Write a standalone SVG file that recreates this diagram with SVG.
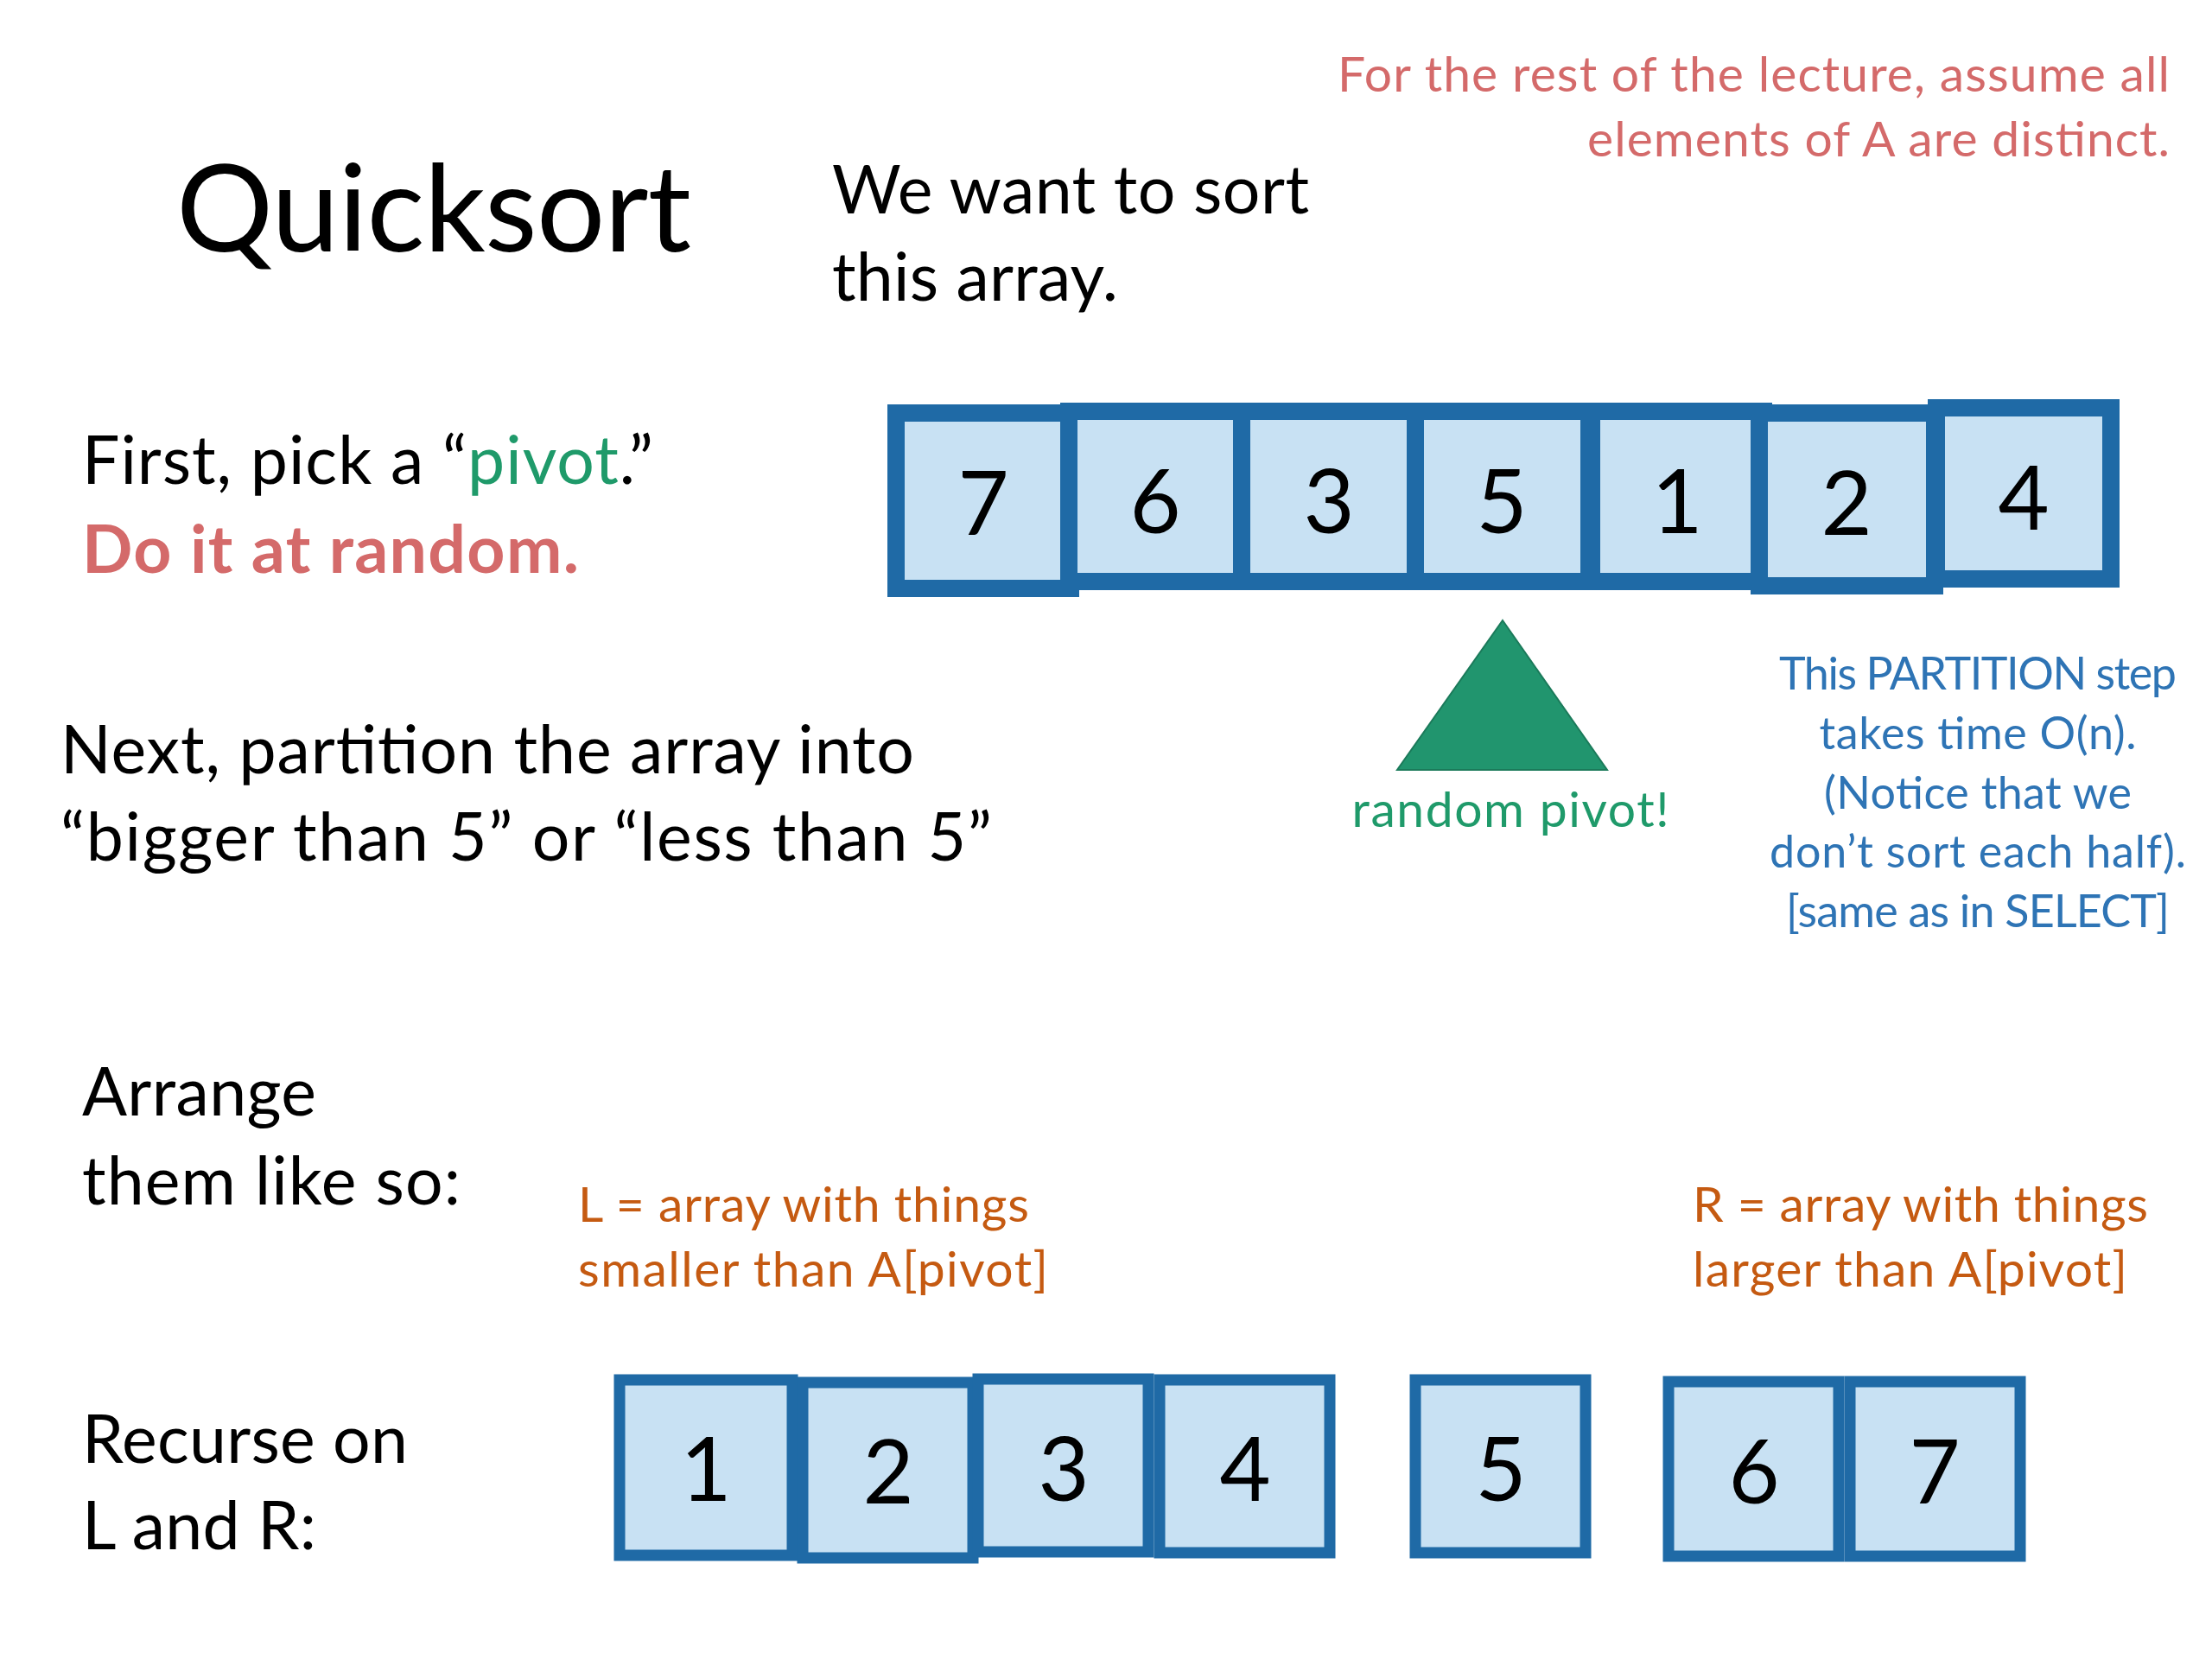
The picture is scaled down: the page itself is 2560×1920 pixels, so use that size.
<svg xmlns="http://www.w3.org/2000/svg" width="2560" height="1920" viewBox="0 0 2560 1920">
<style>
text{font-family:Lato,"Noto Sans","DejaVu Sans",sans-serif}
.body{font-size:77px;fill:#000}
.title{font-size:140px;fill:#000}
.red{font-size:57px;fill:#D46A6A}
.redb{font-size:77px;fill:#D46A6A;font-weight:bold}
.green{fill:#1F9A6A}
.blue{font-size:52px;fill:#2E74B5;text-anchor:middle}
.orange{font-size:57px;fill:#C55A11}
.cellT{fill:#C8E1F3;stroke:#1F6AA6;stroke-width:20}
.cellB{fill:#C8E1F3;stroke:#1F6AA6;stroke-width:13}
.digit{font-size:102px;fill:#000;text-anchor:middle}
</style>
<rect width="2560" height="1920" fill="#fff"/>
<g id="title"><text class="title" x="204" y="291" textLength="596">Quicksort</text></g>
<g id="intro">
<text class="body" x="963" y="247" textLength="552">We want to sort</text>
<text class="body" x="963" y="348" textLength="331">this array.</text>
</g>
<g id="note-distinct">
<text class="red" x="2511" y="106" text-anchor="end" textLength="963">For the rest of the lecture, assume all</text>
<text class="red" x="2511" y="181" text-anchor="end" textLength="674">elements of A are distinct.</text>
</g>
<g id="step-pivot">
<text class="body" x="95" y="560" textLength="661">First, pick a “<tspan class="green">pivot</tspan>.”</text>
<text class="redb" x="95" y="663" textLength="575">Do it at random.</text>
</g>
<g id="step-partition">
<text class="body" x="70" y="895" textLength="988">Next, partition the array into</text>
<text class="body" x="70" y="996" textLength="1078">“bigger than 5” or “less than 5”</text>
</g>
<g id="array-top">
<g id="t7"><rect class="cellT" x="1037" y="478" width="202" height="203"/><text class="digit" x="1138" y="619">7</text></g>
<g id="t6"><rect class="cellT" x="1237" y="476" width="200" height="197"/><text class="digit" x="1337" y="617">6</text></g>
<g id="t3"><rect class="cellT" x="1437" y="476" width="202" height="197"/><text class="digit" x="1538" y="617">3</text></g>
<g id="t5"><rect class="cellT" x="1638" y="476" width="201" height="197"/><text class="digit" x="1738" y="617">5</text></g>
<g id="t1"><rect class="cellT" x="1842" y="476" width="199" height="197"/><text class="digit" x="1941" y="617">1</text></g>
<g id="t2"><rect class="cellT" x="2036" y="478" width="203" height="200"/><text class="digit" x="2137" y="619">2</text></g>
<g id="t4"><rect class="cellT" x="2241" y="472" width="202" height="198"/><text class="digit" x="2342" y="613">4</text></g>
</g>
<g id="pivot-marker">
<polygon points="1739,718 1860,891 1617,891" fill="#21956E" stroke="#1B7A5A" stroke-width="2"/>
<text class="green" x="1748" y="957" font-size="57" text-anchor="middle" textLength="367">random pivot!</text>
</g>
<g id="note-partition">
<text class="blue" x="2289" y="798" textLength="460">This PARTITION step</text>
<text class="blue" x="2289" y="867" textLength="367">takes time O(n).</text>
<text class="blue" x="2289" y="936" textLength="356">(Notice that we</text>
<text class="blue" x="2289" y="1004" textLength="482">don’t sort each half).</text>
<text class="blue" x="2289" y="1073" textLength="444">[same as in SELECT]</text>
</g>
<g id="step-arrange">
<text class="body" x="95" y="1291" textLength="271">Arrange</text>
<text class="body" x="95" y="1394" textLength="438">them like so:</text>
</g>
<g id="label-L">
<text class="orange" x="669" y="1414" textLength="522">L = array with things</text>
<text class="orange" x="669" y="1489" textLength="544">smaller than A[pivot]</text>
</g>
<g id="label-R">
<text class="orange" x="1959" y="1414" textLength="527">R = array with things</text>
<text class="orange" x="1959" y="1489" textLength="503">larger than A[pivot]</text>
</g>
<g id="step-recurse">
<text class="body" x="95" y="1693" textLength="377">Recurse on</text>
<text class="body" x="95" y="1793" textLength="271">L and R:</text>
</g>
<g id="array-L">
<g id="b1"><rect class="cellB" x="717" y="1597" width="200" height="203"/><text class="digit" x="817" y="1737">1</text></g>
<g id="b2"><rect class="cellB" x="929" y="1600" width="197" height="203"/><text class="digit" x="1028" y="1740">2</text></g>
<g id="b3"><rect class="cellB" x="1132" y="1596" width="197" height="200"/><text class="digit" x="1231" y="1737">3</text></g>
<g id="b4"><rect class="cellB" x="1342" y="1597" width="197" height="200"/><text class="digit" x="1441" y="1737">4</text></g>
</g>
<g id="array-pivot">
<g id="b5"><rect class="cellB" x="1638" y="1597" width="197" height="200"/><text class="digit" x="1737" y="1737">5</text></g>
</g>
<g id="array-R">
<g id="b6"><rect class="cellB" x="1931" y="1599" width="197" height="202"/><text class="digit" x="2030" y="1740">6</text></g>
<g id="b7"><rect class="cellB" x="2141" y="1599" width="197" height="202"/><text class="digit" x="2239" y="1740">7</text></g>
</g>
<g id="connectors"></g>
</svg>
